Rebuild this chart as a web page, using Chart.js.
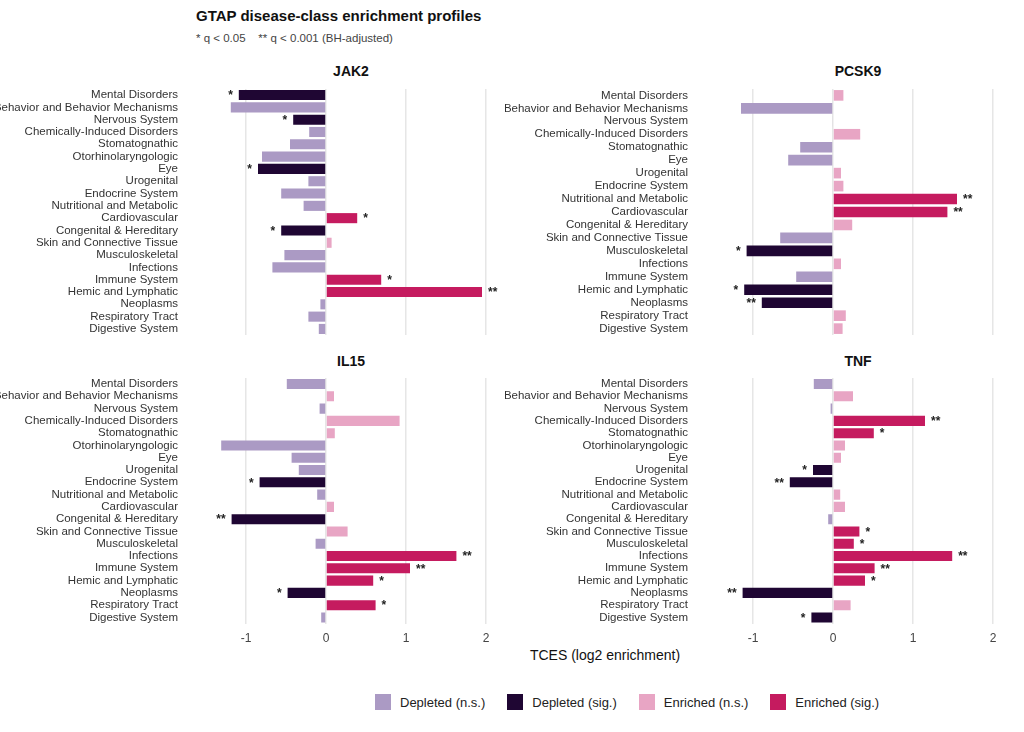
<!DOCTYPE html>
<html><head><meta charset="utf-8">
<script src="https://cdn.jsdelivr.net/npm/chart.js@4"></script>
<style>
body{margin:0;width:1024px;height:732px;background:#fff;font-family:"Liberation Sans",Arial,sans-serif;position:relative;overflow:hidden}
.abs{position:absolute}
.pt{position:absolute;font-weight:bold;font-size:14px;color:#111;transform:translateX(-50%)}
.leg{position:absolute;top:694px;left:375px;font-size:13px;color:#222;display:flex;align-items:center}
.leg span.b{display:inline-block;width:16px;height:16px;margin-right:9px}
.leg span.t{margin-right:22px}
</style></head><body>
<div class="abs" style="left:196px;top:7px;font-size:15px;font-weight:bold;color:#111">GTAP disease-class enrichment profiles</div>
<div class="abs" style="left:196px;top:32px;font-size:11.5px;color:#444">* q &lt; 0.05 &nbsp;&nbsp; ** q &lt; 0.001 (BH-adjusted)</div>
<div class="pt" style="left:351px;top:63px">JAK2</div>
<div class="pt" style="left:858px;top:63px">PCSK9</div>
<div class="pt" style="left:351px;top:353px">IL15</div>
<div class="pt" style="left:858px;top:353px">TNF</div>
<div class="abs" style="left:605px;top:647px;font-size:14px;color:#111;transform:translateX(-50%)">TCES (log2 enrichment)</div>
<div class="leg">
<span class="b" style="background:#ab9ac4"></span><span class="t">Depleted (n.s.)</span>
<span class="b" style="background:#1f0633"></span><span class="t">Depleted (sig.)</span>
<span class="b" style="background:#e8a5c4"></span><span class="t">Enriched (n.s.)</span>
<span class="b" style="background:#c51b5f"></span><span class="t">Enriched (sig.)</span>
</div>
<div class="abs" style="left:0;top:78px;width:500px;height:268px"><canvas id="c1"></canvas></div>
<div class="abs" style="left:505px;top:78px;width:510px;height:268px"><canvas id="c2"></canvas></div>
<div class="abs" style="left:0;top:367px;width:500px;height:287px"><canvas id="c3"></canvas></div>
<div class="abs" style="left:505px;top:367px;width:510px;height:287px"><canvas id="c4"></canvas></div>
<script>
const categories=["Mental Disorders","Behavior and Behavior Mechanisms","Nervous System","Chemically-Induced Disorders","Stomatognathic","Otorhinolaryngologic","Eye","Urogenital","Endocrine System","Nutritional and Metabolic","Cardiovascular","Congenital & Hereditary","Skin and Connective Tissue","Musculoskeletal","Infections","Immune System","Hemic and Lymphatic","Neoplasms","Respiratory Tract","Digestive System"];
const pcsk9Categories=categories.filter(c=>c!=="Otorhinolaryngologic");
const jak2Values=[-1.09,-1.19,-0.41,-0.21,-0.45,-0.80,-0.85,-0.22,-0.56,-0.28,0.39,-0.56,0.07,-0.52,-0.67,0.69,1.95,-0.07,-0.22,-0.09];
const jak2Sig=["*","","*","","","","*","","","","*","*","","","","*","**","","",""];
const pcsk9Values=[0.13,-1.15,-0.01,0.34,-0.41,-0.56,0.10,0.13,1.55,1.43,0.24,-0.66,-1.08,0.10,-0.46,-1.11,-0.89,0.16,0.12];
const pcsk9Sig=["","","","","","","","","**","**","","","*","","","*","**","",""];
const il15Values=[-0.49,0.10,-0.08,0.92,0.11,-1.31,-0.43,-0.34,-0.83,-0.11,0.10,-1.18,0.27,-0.13,1.63,1.05,0.59,-0.48,0.62,-0.06];
const il15Sig=["","","","","","","","","*","","","**","","","**","**","*","*","*",""];
const tnfValues=[-0.24,0.25,-0.03,1.15,0.51,0.15,0.10,-0.25,-0.54,0.09,0.15,-0.06,0.33,0.26,1.49,0.52,0.40,-1.13,0.22,-0.27];
const tnfSig=["","","","**","*","","","*","**","","","","*","*","**","**","*","**","","*"];
const xTicks=[-1,0,1,2];

function col(v,s){return v<0?(s?"#1f0633":"#ab9ac4"):(s?"#c51b5f":"#e8a5c4");}
const starPlugin={id:"stars",afterDatasetsDraw(ch){
  const ctx=ch.ctx,meta=ch.getDatasetMeta(0),sig=ch.options.plugins.stars.sig,vals=ch.data.datasets[0].data;
  ctx.save();ctx.font="bold 12px 'Liberation Sans',Arial";ctx.fillStyle="#222";ctx.textBaseline="middle";
  meta.data.forEach((b,i)=>{if(!sig[i])return;
    if(vals[i]>=0){ctx.textAlign="left";ctx.fillText(sig[i],b.x+6,b.y+1);}
    else{ctx.textAlign="right";ctx.fillText(sig[i],b.x-6,b.y+1);}});
  ctx.restore();}};
function make(id,cats,vals,sig,min,max,yw,showX){
  new Chart(document.getElementById(id),{type:"bar",plugins:[starPlugin],
   data:{labels:cats,datasets:[{data:vals,backgroundColor:vals.map((v,i)=>col(v,sig[i])),barPercentage:0.82,categoryPercentage:1}]},
   options:{indexAxis:"y",responsive:true,maintainAspectRatio:false,animation:false,
    layout:{padding:0},
    plugins:{legend:{display:false},tooltip:{enabled:false},stars:{sig:sig}},
    scales:{
     x:{min:min,max:max,afterBuildTicks(a){a.ticks=xTicks.map(v=>({value:v}));},
        grid:{color:"#e6e6e6",lineWidth:1.5,drawTicks:false},border:{display:false},
        ticks:{display:showX,color:"#444",font:{size:12},padding:8}},
     y:{afterFit(a){a.width=yw;},grid:{display:false},border:{display:false},
        ticks:{color:"#333",font:{size:11.5},padding:4,autoSkip:false}}}}});
}
make("c1",categories,jak2Values,jak2Sig,-1.7,2.175,190,false);
make("c2",pcsk9Categories,pcsk9Values,pcsk9Sig,-1.6625,2.275,195,false);
make("c3",categories,il15Values,il15Sig,-1.7,2.175,190,true);
make("c4",categories,tnfValues,tnfSig,-1.6625,2.275,195,true);
</script></body></html>
